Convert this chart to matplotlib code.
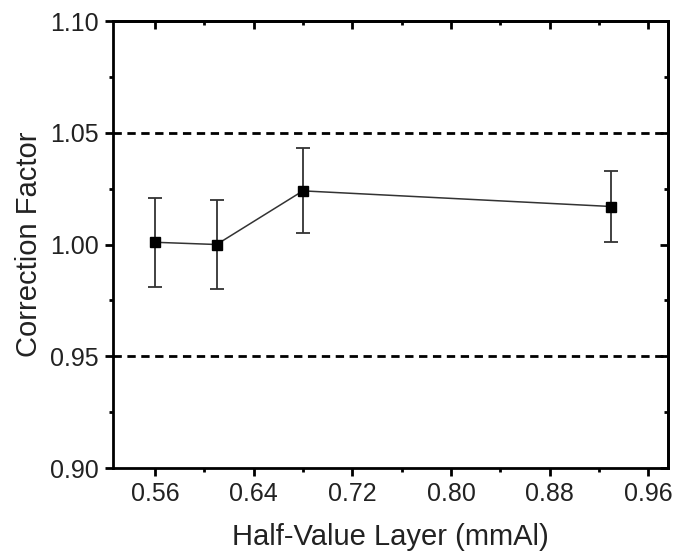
import matplotlib
matplotlib.use('Agg')
from matplotlib import pyplot as plt
from matplotlib.ticker import MultipleLocator
import numpy as np

plt.rcParams['font.family'] = ['Liberation Sans', 'DejaVu Sans']

## data
hvl = [0.56, 0.61, 0.68, 0.93]
cf = [1.001, 1.000, 1.024, 1.017]
cf_err = [0.020, 0.020, 0.019, 0.016]
limits = [0.95, 1.05]

fig = plt.figure(figsize=(6.88, 5.53), dpi=100)
ax = fig.add_axes([0.1642, 0.1537, 0.8068, 0.8083])

for lim in limits:
    ax.axhline(lim, color='black', lw=2, ls=(0, (3, 2)), zorder=1)

ax.errorbar(hvl, cf, yerr=cf_err, fmt='none', ecolor='#333333', elinewidth=1.3,
            capsize=5, capthick=1.3, zorder=2)
ax.plot(hvl, cf, color='#333333', lw=1.1, zorder=3)
ax.plot(hvl, cf, 's', color='black', ms=7, zorder=4)

ax.set_xlim(0.526, 0.976)
ax.set_ylim(0.90, 1.10)
ax.xaxis.set_major_locator(MultipleLocator(0.08))
ax.xaxis.set_minor_locator(MultipleLocator(0.04))
ax.yaxis.set_major_locator(MultipleLocator(0.05))
ax.yaxis.set_minor_locator(MultipleLocator(0.025))
ax.xaxis.set_major_formatter(lambda v, p: '%.2f' % v)
ax.yaxis.set_major_formatter(lambda v, p: '%.2f' % v)

for s in ax.spines.values():
    s.set_linewidth(2)

ax.tick_params(which='both', direction='out', top=False, right=False, width=2,
               labelsize=18, pad=4, labelcolor='#222222')
ax.tick_params(which='major', length=6)
ax.tick_params(which='minor', length=3)

# mirrored inward ticks on top and right
axt = ax.secondary_xaxis('top')
axt.xaxis.set_major_locator(MultipleLocator(0.08))
axt.xaxis.set_minor_locator(MultipleLocator(0.04))
axt.tick_params(which='both', direction='in', width=2, labeltop=False)
axt.tick_params(which='major', length=6)
axt.tick_params(which='minor', length=3)
axt.spines['top'].set_linewidth(2)
axr = ax.secondary_yaxis('right')
axr.yaxis.set_major_locator(MultipleLocator(0.05))
axr.yaxis.set_minor_locator(MultipleLocator(0.025))
axr.tick_params(which='both', direction='in', width=2, labelright=False)
axr.tick_params(which='major', length=6)
axr.tick_params(which='minor', length=3)
axr.spines['right'].set_linewidth(2)

ax.set_xlabel('Half-Value Layer (mmAl)', fontsize=21, labelpad=12, color='#222222')
ax.set_ylabel('Correction Factor', fontsize=21, labelpad=5, color='#222222')

fig.savefig('out.png', dpi=100)
